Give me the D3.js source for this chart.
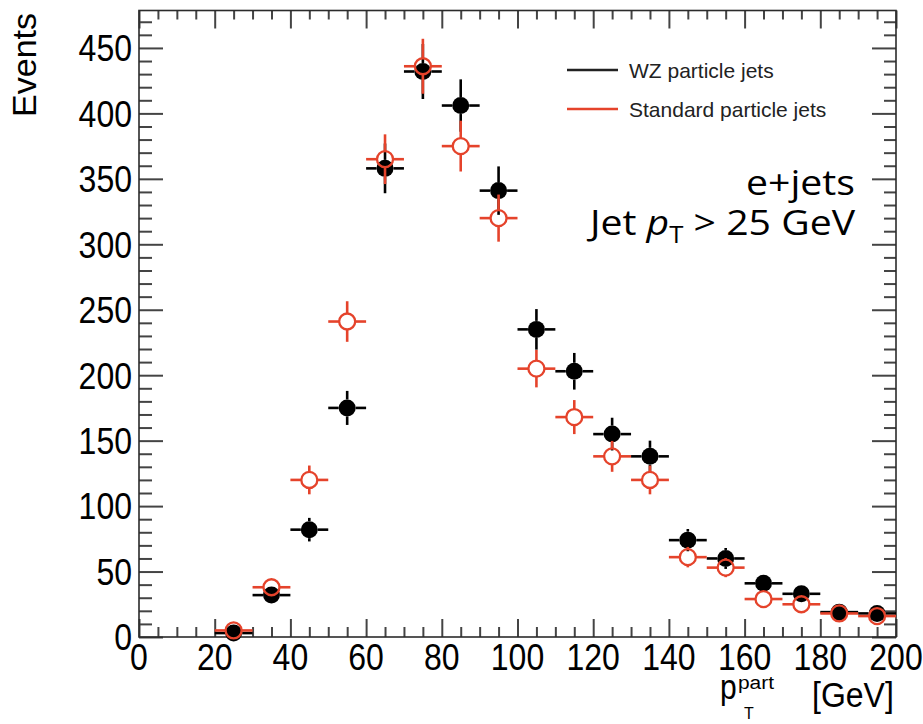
<!DOCTYPE html>
<html>
<head>
<meta charset="utf-8">
<script src="https://cdn.jsdelivr.net/npm/d3@7"></script>
<style>
  body { margin: 0; background: #fff; }
  text { font-family: "Liberation Sans", Arial, sans-serif; }
</style>
</head>
<body>
<div id="chart"></div>
<script>
// bin centres (GeV), 10 GeV wide
const binCenters = [25, 35, 45, 55, 65, 75, 85, 95, 105, 115, 125, 135, 145, 155, 165, 175, 185, 195];
// WZ particle jets
const wzValues = [3, 32, 82, 175, 358, 432, 406, 341, 235, 203, 155, 138, 74, 60, 41, 33, 19, 18];
const wzErrors = [2, 6, 9, 13, 19, 21, 20, 18.5, 15.5, 14, 12.5, 12, 8.5, 8, 6.5, 5.5, 4.5, 4.3];
// Standard particle jets
const stdValues = [5, 38, 120, 241, 365, 436, 375, 320, 205, 168, 138, 120, 61, 53, 29, 25, 18, 16];
const stdErrors = [2.2, 6.2, 11, 15.5, 19, 21, 19.4, 18, 14.3, 13, 11.8, 11, 7.8, 7.3, 5.4, 5, 4.2, 4];

const xTickLabels = [0, 20, 40, 60, 80, 100, 120, 140, 160, 180, 200];
const yTickLabels = [0, 50, 100, 150, 200, 250, 300, 350, 400, 450];

const W = 923, H = 724;
const plot = { left: 139, right: 896, top: 10.5, bottom: 637 };
const red = "#e5432b";
const stretch = 1.17; // tick labels look taller than wide

const svg = d3.select("#chart").append("svg")
    .attr("width", W)
    .attr("height", H);

const x = d3.scaleLinear().domain([0, 200]).range([plot.left, plot.right]);
const y = d3.scaleLinear().domain([0, 478.6]).range([plot.bottom, plot.top]);

// ticks (ROOT style: inside, on all four sides)
const tickColor = "#444";
function tickAxis(axis, transform) {
    const g = svg.append("g").attr("transform", transform).call(axis);
    g.select(".domain").remove();
    g.selectAll("line").attr("stroke", tickColor).attr("stroke-width", 2);
    g.selectAll("text").remove();
}
const xMinor = d3.range(0, 201, 5).filter(v => v % 20 !== 0);
const yMinor = d3.range(0, 471, 10).filter(v => v % 50 !== 0);

tickAxis(d3.axisBottom(x).tickValues(xTickLabels).tickSize(-18), `translate(0,${plot.bottom})`);
tickAxis(d3.axisBottom(x).tickValues(xMinor).tickSize(-10), `translate(0,${plot.bottom})`);
tickAxis(d3.axisTop(x).tickValues(xTickLabels).tickSize(-18), `translate(0,${plot.top})`);
tickAxis(d3.axisTop(x).tickValues(xMinor).tickSize(-9), `translate(0,${plot.top})`);
tickAxis(d3.axisLeft(y).tickValues(yTickLabels).tickSize(-24), `translate(${plot.left},0)`);
tickAxis(d3.axisLeft(y).tickValues(yMinor).tickSize(-13), `translate(${plot.left},0)`);
tickAxis(d3.axisRight(y).tickValues(yTickLabels).tickSize(-24), `translate(${plot.right},0)`);
tickAxis(d3.axisRight(y).tickValues(yMinor).tickSize(-12), `translate(${plot.right},0)`);

// frame
svg.append("rect")
    .attr("x", plot.left).attr("y", plot.top)
    .attr("width", plot.right - plot.left).attr("height", plot.bottom - plot.top)
    .attr("fill", "none").attr("stroke", "#2b2b2b").attr("stroke-width", 1.6);

// tick labels
const labelSize = 32;
svg.selectAll(".xlab").data(xTickLabels).enter().append("text")
    .attr("class", "xlab")
    .attr("transform", d => `translate(${x(d)},670) scale(1,${stretch})`)
    .attr("text-anchor", "middle")
    .style("font-size", labelSize + "px")
    .text(d => d);

svg.selectAll(".ylab").data(yTickLabels).enter().append("text")
    .attr("class", "ylab")
    .attr("transform", d => `translate(132,${y(d) + 13.4}) scale(1,${stretch})`)
    .attr("text-anchor", "end")
    .style("font-size", labelSize + "px")
    .text(d => d);

// axis titles
svg.append("text")
    .attr("transform", "translate(36,13) rotate(-90)")
    .attr("text-anchor", "end")
    .style("font-size", "34px")
    .text("Events");

const xt = svg.append("g");
xt.append("text")
    .attr("transform", "translate(720,699) scale(1,1.17)")
    .style("font-size", "30px")
    .text("p");
xt.append("text")
    .attr("transform", "translate(738,689) scale(1.1,1)")
    .style("font-size", "19px")
    .text("part");
xt.append("text")
    .attr("transform", "translate(744,719)")
    .style("font-size", "16px")
    .text("T");
xt.append("text")
    .attr("transform", "translate(812,707) scale(1,1.07)")
    .style("font-size", "32px")
    .text("[GeV]");

// data points; error bars stop at the marker edge (ROOT style)
function drawSeries(values, errors, color, filled) {
    const g = svg.append("g");
    const r = filled ? 8.5 : 8;
    const pts = binCenters.map((c, i) => ({ c, v: values[i], e: errors[i] }));
    const segs = [];
    pts.forEach(d => {
        const cx = x(d.c), cy = y(d.v);
        segs.push([x(d.c - 5), cy, cx - r, cy]);
        segs.push([cx + r, cy, x(d.c + 5), cy]);
        if (y(d.v + d.e) < cy - r) segs.push([cx, y(d.v + d.e), cx, cy - r]);
        if (y(d.v - d.e) > cy + r) segs.push([cx, cy + r, cx, y(d.v - d.e)]);
    });
    g.selectAll("line").data(segs).enter().append("line")
        .attr("x1", s => s[0]).attr("y1", s => s[1])
        .attr("x2", s => s[2]).attr("y2", s => s[3])
        .attr("stroke", color).attr("stroke-width", 2.6);
    g.selectAll("circle").data(pts).enter().append("circle")
        .attr("cx", d => x(d.c)).attr("cy", d => y(d.v))
        .attr("r", r)
        .attr("fill", filled ? color : "none")
        .attr("stroke", filled ? "none" : color)
        .attr("stroke-width", 2.3);
}
drawSeries(wzValues, wzErrors, "#000", true);
drawSeries(stdValues, stdErrors, red, false);

// legend
const legend = [
    { label: "WZ particle jets", color: "#222", y: 70 },
    { label: "Standard particle jets", color: red, y: 109 }
];
legend.forEach(l => {
    svg.append("line")
        .attr("x1", 567).attr("x2", 618)
        .attr("y1", l.y).attr("y2", l.y)
        .attr("stroke", l.color).attr("stroke-width", 2.6);
    svg.append("text")
        .attr("x", 629).attr("y", l.y + 8)
        .style("font-size", "21px")
        .attr("fill", "#222")
        .text(l.label);
});

// annotation
const note = svg.append("g");
note.append("text")
    .attr("transform", "translate(855,195) scale(1.12,1)")
    .attr("text-anchor", "end")
    .style("font-family", "'Open Sans', sans-serif")
    .style("font-size", "35px")
    .text("e+jets");
const t2 = note.append("text")
    .attr("transform", "translate(855,235) scale(1.12,1)")
    .attr("text-anchor", "end")
    .style("font-family", "'Open Sans', sans-serif")
    .style("font-size", "35px");
t2.append("tspan").text("Jet ");
t2.append("tspan").style("font-style", "italic").text("p");
t2.append("tspan").attr("dy", 8).style("font-size", "23px").text("T");
t2.append("tspan").attr("dy", -8).text(" > 25 GeV");
</script>
</body>
</html>
